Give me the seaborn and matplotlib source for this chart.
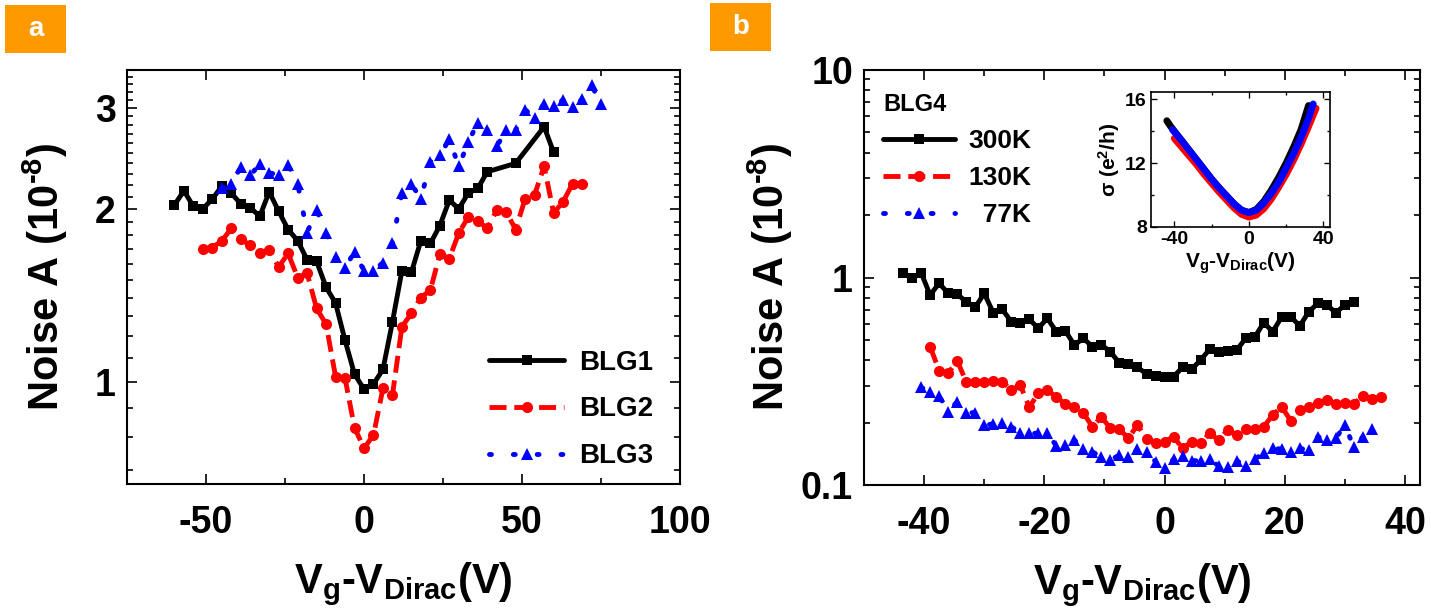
import numpy as np
import pandas as pd
import matplotlib
matplotlib.use("Agg")
import matplotlib.pyplot as plt
import seaborn as sns
from matplotlib.ticker import FixedLocator, NullFormatter, FixedFormatter, LogLocator
from matplotlib.patches import Rectangle

# ---------------- Panel a data ----------------
blg1_v = [-60, -57, -54, -51, -48, -45, -42, -39, -36, -33, -30, -27, -24, -21, -18, -15, -12, -9, -6, -3,
          0, 3, 6, 9, 12, 15, 18, 21, 24, 27, 30, 33, 36, 39, 48, 57, 60]
blg1_a = [2.03, 2.15, 2.02, 2.00, 2.08, 2.19, 2.13, 2.04, 2.01, 1.94, 2.14, 1.98, 1.84, 1.76, 1.63, 1.62, 1.46, 1.37, 1.18, 1.03,
          0.97, 0.99, 1.05, 1.27, 1.56, 1.55, 1.76, 1.74, 1.87, 2.07, 2.00, 2.13, 2.17, 2.32, 2.40, 2.78, 2.51]

blg2_v = [-51, -48, -45, -42, -39, -36, -33, -30, -27, -24, -21, -18, -15, -12, -9, -6, -3, 0, 3, 6, 9,
          12, 15, 18, 21, 24, 27, 30, 33, 36, 39, 42, 45, 48, 51, 54, 57, 60, 63, 66, 69]
blg2_a = [1.705, 1.712, 1.758, 1.848, 1.77, 1.728, 1.672, 1.698, 1.584, 1.672, 1.518, 1.543, 1.341, 1.259, 1.02, 1.013,
          0.831, 0.765, 0.807, 0.973, 0.947, 1.246, 1.314, 1.401, 1.443, 1.667, 1.638, 1.815, 1.935, 1.905, 1.848,
          1.988, 1.975, 1.84, 2.084, 2.117, 2.371, 1.967, 2.056, 2.213, 2.213]

blg3_v = [-45, -42, -39, -36, -33, -30, -27, -24, -21, -18, -15, -12, -9, -6, -3, 0, 3, 6, 9, 12, 15,
          18, 21, 24, 27, 30, 33, 36, 39, 42, 45, 48, 51, 54, 57, 60, 63, 66, 69, 72, 75]
blg3_a = [2.174, 2.207, 2.365, 2.288, 2.391, 2.309, 2.294, 2.381, 2.213, 1.818, 1.988, 1.818, 1.649, 1.58, 1.682,
          1.559, 1.559, 1.612, 1.744, 2.131, 2.207, 2.084, 2.413, 2.479, 2.642, 2.371, 2.614, 2.825, 2.747, 2.569,
          2.74, 2.74, 2.976, 2.883, 3.049, 3.016, 3.097, 3.008, 3.101, 3.281, 3.049]

# ---------------- Panel b data (BLG4) ----------------
k300_v = [-43.5, -42, -40.5, -39, -37.5, -36, -34.5, -33, -31.5, -30, -28.5, -27, -25.5, -24, -22.5, -21, -19.5,
          -18, -16.5, -15, -13.5, -12, -10.5, -9, -7.5, -6, -4.5, -3, -1.5, 0, 1.5, 3, 4.5, 6, 7.5, 9, 10.5, 12,
          13.5, 15, 16.5, 18, 19.5, 21, 22.5, 24, 25.5, 27, 28.5, 30, 31.5]
k300_a = [1.048, 0.991, 1.055, 0.823, 0.938, 0.839, 0.830, 0.765, 0.718, 0.839, 0.677, 0.703, 0.612, 0.606, 0.629,
          0.569, 0.636, 0.548, 0.552, 0.473, 0.509, 0.464, 0.473, 0.439, 0.386, 0.383, 0.369, 0.343, 0.335, 0.330,
          0.333, 0.369, 0.361, 0.40, 0.451, 0.439, 0.444, 0.447, 0.509, 0.515, 0.606, 0.548, 0.647, 0.647, 0.584,
          0.684, 0.751, 0.737, 0.677, 0.737, 0.765]

k130_v = [-39, -37.5, -36, -34.5, -33, -31.5, -30, -28.5, -27, -25.5, -24, -22.5, -21, -19.5, -18, -16.5, -15,
          -13.5, -12, -10.5, -9, -7.5, -6, -4.5, -3, -1.5, 0, 1.5, 3, 4.5, 6, 7.5, 9, 10.5, 12, 13.5, 15, 16.5,
          18, 19.5, 21, 22.5, 24, 25.5, 27, 28.5, 30, 31.5, 33, 34.5, 36]
k130_a = [0.464, 0.356, 0.345, 0.397, 0.315, 0.315, 0.315, 0.318, 0.315, 0.287, 0.303, 0.237, 0.277, 0.287, 0.265,
          0.246, 0.238, 0.222, 0.191, 0.213, 0.1875, 0.1855, 0.168, 0.195, 0.166, 0.159, 0.1617, 0.171, 0.150,
          0.1617, 0.159, 0.1775, 0.1648, 0.184, 0.174, 0.186, 0.186, 0.191, 0.2175, 0.238, 0.204, 0.23, 0.238,
          0.2475, 0.257, 0.246, 0.249, 0.246, 0.2695, 0.26, 0.2655]

k77_v = [-40.5, -39, -37.5, -36, -34.5, -33, -31.5, -30, -28.5, -27, -25.5, -24, -22.5, -21, -19.5, -18, -16.5,
         -15, -13.5, -12, -10.5, -9, -7.5, -6, -4.5, -3, -1.5, 0, 1.5, 3, 4.5, 6, 7.5, 9, 10.5, 12, 13.5, 15,
         16.5, 18, 19.5, 21, 22.5, 24, 25.5, 27, 28.5, 30, 31.5, 33, 34.5]
k77_a = [0.2956, 0.2818, 0.2685, 0.2257, 0.2521, 0.2232, 0.2232, 0.1946, 0.1968, 0.1982, 0.1909, 0.1788, 0.1775,
         0.1775, 0.1775, 0.1542, 0.1559, 0.1648, 0.1485, 0.1447, 0.1359, 0.1320, 0.1395, 0.1359, 0.1485, 0.1447,
         0.1296, 0.1203, 0.1330, 0.1379, 0.1310, 0.1310, 0.1330, 0.1235, 0.1217, 0.1310, 0.1235, 0.1330, 0.1431,
         0.1502, 0.1490, 0.1447, 0.1502, 0.1475, 0.171, 0.1648, 0.168, 0.1946, 0.1519, 0.171, 0.1862]

# ---------------- Inset data (conductivity) ----------------
sig300_v = [-44, -42, -40, -36, -32, -28, -24, -20, -16, -12, -8, -4, 0, 4, 8, 12, 16, 20, 24, 28, 32]
sig300_s = [14.65, 14.3, 14.0, 13.4, 12.8, 12.2, 11.6, 11.0, 10.45, 9.95, 9.45, 9.05, 8.9, 9.1, 9.6, 10.3, 11.1,
            12.0, 13.0, 14.1, 15.6]
sig130_v = [-40, -36, -32, -28, -24, -20, -16, -12, -8, -4, 0, 4, 8, 12, 16, 20, 24, 28, 32, 36]
sig130_s = [13.55, 13.0, 12.45, 11.9, 11.3, 10.75, 10.2, 9.7, 9.2, 8.8, 8.62, 8.75, 9.15, 9.75, 10.5, 11.3, 12.2,
            13.2, 14.3, 15.43]
sig77_v = [-41, -36, -32, -28, -24, -20, -16, -12, -8, -4, 0, 4, 8, 12, 16, 20, 24, 28, 32, 34.5]
sig77_s = [14.1, 13.4, 12.8, 12.2, 11.6, 11.0, 10.45, 9.95, 9.45, 9.05, 8.9, 9.05, 9.5, 10.1, 10.8, 11.7, 12.6,
           13.6, 14.8, 15.7]

# ---------------- Style ----------------
sns.set_theme(style="ticks")
plt.rcParams["font.family"] = ["Liberation Sans", "DejaVu Sans"]
plt.rcParams["font.weight"] = "bold"
plt.rcParams["axes.labelweight"] = "bold"
plt.rcParams["text.color"] = "black"
plt.rcParams["axes.labelcolor"] = "black"
plt.rcParams["xtick.color"] = "black"
plt.rcParams["ytick.color"] = "black"
plt.rcParams["xtick.labelcolor"] = "black"
plt.rcParams["ytick.labelcolor"] = "black"
plt.rcParams["axes.unicode_minus"] = False
plt.rcParams["mathtext.fontset"] = "custom"
plt.rcParams["mathtext.rm"] = "Liberation Sans:bold"
plt.rcParams["mathtext.it"] = "Liberation Sans:bold"
plt.rcParams["mathtext.bf"] = "Liberation Sans:bold"
plt.rcParams["mathtext.default"] = "rm"

W, H = 1431, 616
fig = plt.figure(figsize=(W / 100, H / 100), dpi=100)
fig.patch.set_facecolor("white")

axa = fig.add_axes([127 / W, 1 - 484 / H, (680 - 127) / W, (484 - 70) / H])
axb = fig.add_axes([864 / W, 1 - 485 / H, (1420 - 864) / W, (485 - 70) / H])

BLUE = "#0000FF"
RED = "#FF0000"

def style_axes(ax, tick_size, major_len=7, minor_len=4, lw=1.5):
    for s in ax.spines.values():
        s.set_linewidth(lw)
        s.set_color("black")
        s.set_visible(True)
    ax.tick_params(which="both", direction="in", top=True, right=True, color="black", width=lw * 0.8)
    ax.tick_params(which="major", length=major_len, labelsize=tick_size, pad=8, labelcolor="black")
    ax.tick_params(which="minor", length=minor_len)
    for lab in ax.get_xticklabels() + ax.get_yticklabels():
        lab.set_fontweight("bold")
    ax.set_facecolor("white")
    ax.grid(False)

YLAB = "Noise A (10$^{\\text{-8}}$)"
XLAB = "V$_{g}$-V$_{Dirac}$(V)"

# ---- Panel a ----
sns.lineplot(x=blg1_v, y=blg1_a, ax=axa, color="black", marker="s", markersize=7, markeredgewidth=0,
             linewidth=3.5, sort=False, errorbar=None, label="BLG1")
sns.lineplot(x=blg2_v, y=blg2_a, ax=axa, color=RED, marker="o", markersize=8, markeredgewidth=0,
             linewidth=3.5, linestyle=(0, (3.5, 1.6)), sort=False, errorbar=None, label="BLG2")
sns.lineplot(x=blg3_v, y=blg3_a, ax=axa, color=BLUE, marker="^", markersize=9, markeredgewidth=0,
             linewidth=3.5, linestyle=(0, (0.4, 4.5)), dash_capstyle="round", sort=False, errorbar=None,
             label="BLG3")
axa.set_yscale("log")
axa.set_xlim(-75, 100)
axa.set_ylim(0.663, 3.49)
axa.xaxis.set_major_locator(FixedLocator([-50, 0, 50, 100]))
axa.xaxis.set_minor_locator(FixedLocator([-75, -25, 25, 75]))
axa.yaxis.set_major_locator(FixedLocator([1, 2, 3]))
axa.yaxis.set_major_formatter(FixedFormatter(["1", "2", "3"]))
minor_a = [0.7, 0.8, 0.9] + [1 + 0.1 * i for i in range(1, 10)] + [2 + 0.1 * i for i in range(1, 10)] + [3.1, 3.2, 3.3, 3.4]
axa.yaxis.set_minor_locator(FixedLocator(minor_a))
axa.yaxis.set_minor_formatter(NullFormatter())
style_axes(axa, 27)
axa.tick_params(axis="x", which="major", pad=15)
axa.set_xlabel(XLAB, fontsize=30, fontweight="bold", labelpad=14)
axa.set_ylabel(YLAB, fontsize=30, fontweight="bold", labelpad=18)
axa.legend(loc="center left", bbox_to_anchor=(0.655, 0.18), frameon=False,
           handlelength=2.7, handletextpad=0.55, labelspacing=0.75, borderpad=0, borderaxespad=0,
           prop={"weight": "bold", "size": 20})

# ---- Panel b ----
sns.lineplot(x=k300_v, y=k300_a, ax=axb, color="black", marker="s", markersize=7, markeredgewidth=0,
             linewidth=3.5, sort=False, errorbar=None, label="300K")
sns.lineplot(x=k130_v, y=k130_a, ax=axb, color=RED, marker="o", markersize=8, markeredgewidth=0,
             linewidth=3.5, linestyle=(0, (3.5, 1.6)), sort=False, errorbar=None, label="130K")
sns.lineplot(x=k77_v, y=k77_a, ax=axb, color=BLUE, marker="^", markersize=9, markeredgewidth=0,
             linewidth=3.5, linestyle=(0, (0.4, 4.5)), dash_capstyle="round", sort=False, errorbar=None,
             label="  77K")
axb.set_yscale("log")
axb.set_xlim(-50, 42.5)
axb.set_ylim(0.1, 10)
axb.xaxis.set_major_locator(FixedLocator([-40, -20, 0, 20, 40]))
axb.xaxis.set_minor_locator(FixedLocator([-50, -30, -10, 10, 30]))
axb.yaxis.set_major_locator(FixedLocator([0.1, 1, 10]))
axb.yaxis.set_major_formatter(FixedFormatter(["0.1", "1", "10"]))
axb.yaxis.set_minor_locator(LogLocator(base=10, subs=np.arange(2, 10)))
axb.yaxis.set_minor_formatter(NullFormatter())
style_axes(axb, 27)
axb.tick_params(axis="x", which="major", pad=15)
axb.set_xlabel(XLAB, fontsize=30, fontweight="bold", labelpad=14)
axb.set_ylabel(YLAB, fontsize=30, fontweight="bold", labelpad=4)
legb = axb.legend(loc="upper left", bbox_to_anchor=(0.035, 0.945), frameon=False, title="BLG4",
                  handlelength=2.7, handletextpad=0.5, labelspacing=0.5, borderpad=0, borderaxespad=0,
                  prop={"weight": "bold", "size": 19}, alignment="left")
legb.get_title().set_fontweight("bold")
legb.get_title().set_fontsize(17)
legb.get_title().set_color("black")

# ---- Inset ----
axi = fig.add_axes([1151 / W, 1 - 227 / H, (1330 - 1151) / W, (227 - 92) / H])
sns.lineplot(x=sig300_v, y=sig300_s, ax=axi, color="black", linewidth=5, sort=False, errorbar=None)
sns.lineplot(x=sig130_v, y=sig130_s, ax=axi, color=RED, linewidth=5, sort=False, errorbar=None)
sns.lineplot(x=sig77_v, y=sig77_s, ax=axi, color=BLUE, linewidth=5, sort=False, errorbar=None)
axi.set_xlim(-52.5, 43.5)
axi.set_ylim(8, 16.45)
axi.xaxis.set_major_locator(FixedLocator([-40, 0, 40]))
axi.xaxis.set_minor_locator(FixedLocator([-20, 20]))
axi.yaxis.set_major_locator(FixedLocator([8, 12, 16]))
axi.yaxis.set_minor_locator(FixedLocator([10, 14]))
style_axes(axi, 14, major_len=4, minor_len=2.5, lw=1.2)
axi.tick_params(which="major", pad=3)
axi.set_xlabel(XLAB, fontsize=15, fontweight="bold", labelpad=2)
axi.set_ylabel("σ (e$^{2}$/h)", fontsize=15, fontweight="bold", labelpad=2)

# ---- Panel tags ----
for (x0, y0, x1, y1, t) in [(5, 5, 66, 53, "a"), (710, 3, 771, 51, "b")]:
    fig.patches.append(Rectangle((x0 / W, 1 - y1 / H), (x1 - x0) / W, (y1 - y0) / H,
                                 transform=fig.transFigure, facecolor="#FF9900", edgecolor="none"))
    fig.text((x0 + x1) / 2 / W, 1 - (y0 + y1) / 2 / H, t, color="white", fontsize=20, fontweight="bold",
             ha="center", va="center")

fig.savefig("out.png", dpi=100, facecolor="white")
